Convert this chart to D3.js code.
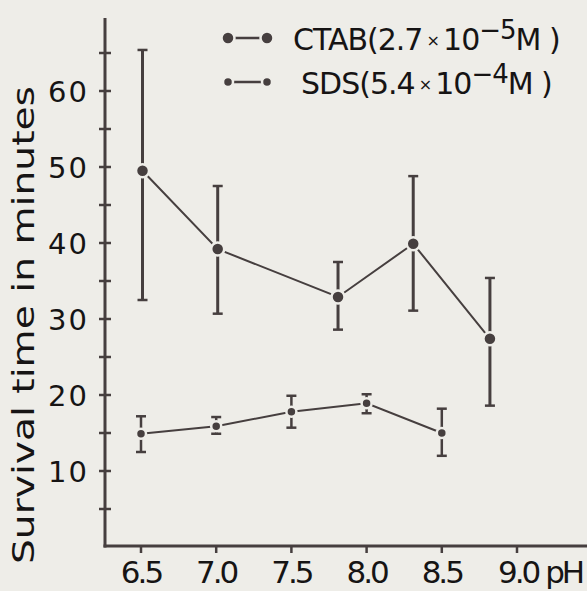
<!DOCTYPE html>
<html><head><meta charset="utf-8">
<script src="https://cdn.jsdelivr.net/npm/d3@7"></script>
<style>
html,body{margin:0;padding:0;background:#eeede8;}
svg{display:block;}
</style></head>
<body>
<script>
// ---- data ----
const ctabPH   = [6.51, 7.01, 7.81, 8.31, 8.82];
const ctabMean = [49.5, 39.2, 32.9, 39.9, 27.4];
const ctabLow  = [32.5, 30.7, 28.6, 31.1, 18.6];
const ctabHigh = [65.4, 47.5, 37.5, 48.8, 35.4];

const sdsPH   = [6.5, 7.0, 7.5, 8.0, 8.5];
const sdsMean = [14.9, 15.9, 17.8, 18.9, 15.0];
const sdsLow  = [12.5, 14.9, 15.7, 17.6, 12.0];
const sdsHigh = [17.2, 17.1, 19.9, 20.1, 18.2];

const xTicks = [6.5, 7.0, 7.5, 8.0, 8.5, 9.0];
const xTickLabels = ["6.5", "7.0", "7.5", "8.0", "8.5", "9.0 pH"];
const yTicks = [5, 10, 15, 20, 25, 30, 35, 40, 45, 50, 55, 60, 65];
const yTickLabels = [10, 20, 30, 40, 50, 60];
const yTitle = "Survival time in minutes";

// ---- drawing ----
const W = 587, H = 591;
const ink = "#463f3f", bg = "#eeede8", txt = "#161414";
const svg = d3.select("body").append("svg").attr("width", W).attr("height", H);
svg.append("rect").attr("width", W).attr("height", H).attr("fill", bg);

const x = d3.scaleLinear().domain([6.5, 9.0]).range([141, 517]);
const y = d3.scaleLinear().domain([0, 60]).range([547, 91]);
const x0 = 105, yBase = 546, yTop = 18;

// axes lines
svg.append("line").attr("x1", x0).attr("x2", x0).attr("y1", yTop).attr("y2", yBase + 1.5)
  .attr("stroke", ink).attr("stroke-width", 3);
svg.append("line").attr("x1", x0 - 1.5).attr("x2", W).attr("y1", yBase).attr("y2", yBase)
  .attr("stroke", ink).attr("stroke-width", 3);

// y ticks (crossing)
svg.selectAll(".yt").data(yTicks).enter().append("line")
  .attr("x1", x0 - 6).attr("x2", x0 + 6)
  .attr("y1", d => y(d)).attr("y2", d => y(d))
  .attr("stroke", ink).attr("stroke-width", 2.5);
svg.selectAll(".yl").data(yTickLabels).enter().append("text")
  .attr("x", 89).attr("y", d => y(d) + 11)
  .attr("text-anchor", "end")
  .attr("font-family", "DejaVu Sans").attr("font-size", 29)
  .attr("letter-spacing", 2)
  .attr("fill", txt).text(d => d);

// x ticks
svg.selectAll(".xt").data(xTicks).enter().append("line")
  .attr("x1", d => x(d)).attr("x2", d => x(d))
  .attr("y1", yBase).attr("y2", yBase + 7)
  .attr("stroke", ink).attr("stroke-width", 2.5);
svg.selectAll(".xl").data(xTicks).enter().append("text")
  .attr("x", (d, i) => i === xTicks.length - 1 ? x(d) - 19 : x(d))
  .attr("y", 583)
  .attr("text-anchor", (d, i) => i === xTicks.length - 1 ? "start" : "middle")
  .attr("font-family", "DejaVu Sans").attr("font-size", 31)
  .attr("letter-spacing", -3)
  .attr("fill", txt).text((d, i) => xTickLabels[i]);

// y title
svg.append("text")
  .attr("transform", "translate(34,325) rotate(-90)")
  .attr("text-anchor", "middle")
  .attr("font-family", "DejaVu Sans").attr("font-size", 31)
  .attr("textLength", 478).attr("lengthAdjust", "spacingAndGlyphs")
  .attr("fill", txt).text(yTitle);

function series(ph, mean, lo, hi, r, sw) {
  const pts = ph.map((p, i) => ({p, m: mean[i], l: lo[i], h: hi[i]}));
  const g = svg.append("g");
  g.append("path").datum(pts)
    .attr("d", d3.line().x(d => x(d.p)).y(d => y(d.m)))
    .attr("fill", "none").attr("stroke", ink).attr("stroke-width", 2);
  const e = g.selectAll(".e").data(pts).enter().append("g");
  e.append("line").attr("x1", d => x(d.p)).attr("x2", d => x(d.p))
    .attr("y1", d => y(d.l)).attr("y2", d => y(d.h))
    .attr("stroke", ink).attr("stroke-width", sw);
  [d => y(d.l), d => y(d.h)].forEach(f => {
    e.append("line").attr("x1", d => x(d.p) - 5).attr("x2", d => x(d.p) + 5)
      .attr("y1", f).attr("y2", f).attr("stroke", ink).attr("stroke-width", 2.5);
  });
  e.append("circle").attr("cx", d => x(d.p)).attr("cy", d => y(d.m)).attr("r", r)
    .attr("fill", ink).attr("stroke", bg).attr("stroke-width", 2.5);
}
series(ctabPH, ctabMean, ctabLow, ctabHigh, 6.5, 3);
series(sdsPH, sdsMean, sdsLow, sdsHigh, 5, 2.5);

// legend
const leg = [
  {y: 38, r: 6.5, label: "CTAB(2.7", exp: "−5", x: 293},
  {y: 82, r: 5, label: "SDS(5.4", exp: "−4", x: 301}
];
leg.forEach(l => {
  svg.append("line").attr("x1", 228).attr("x2", 267).attr("y1", l.y).attr("y2", l.y)
    .attr("stroke", ink).attr("stroke-width", 2.5);
  [228, 267].forEach(cx => svg.append("circle").attr("cx", cx).attr("cy", l.y).attr("r", l.r)
    .attr("fill", ink).attr("stroke", bg).attr("stroke-width", 2.5));
  const t = svg.append("text").attr("x", l.x).attr("y", l.y + 12)
    .attr("font-family", "DejaVu Sans").attr("font-size", 30).attr("fill", txt)
    .attr("letter-spacing", -1);
  t.append("tspan").text(l.label);
  t.append("tspan").attr("font-size", 16).attr("dy", -4).text(" × ");
  t.append("tspan").attr("dy", 4).text("10");
  t.append("tspan").attr("dy", -11).attr("font-size", 26).text(l.exp);
  t.append("tspan").attr("dy", 11).text("M )");
});
</script>
</body></html>
